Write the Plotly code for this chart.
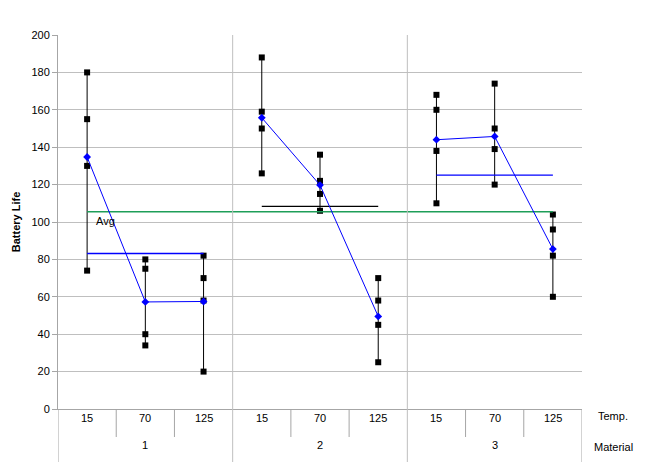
import plotly.graph_objects as go
import numpy as np

materials = ["1", "2", "3"]
temps = ["15", "70", "125"]
# observations per cell (material, temp)
obs = [
    [130, 155, 74, 180], [34, 40, 80, 75], [20, 70, 82, 58],
    [150, 188, 159, 126], [136, 122, 106, 115], [25, 70, 58, 45],
    [138, 110, 168, 160], [174, 120, 150, 139], [96, 104, 82, 60],
]

cell_means = [float(np.mean(o)) for o in obs]
mat_means = [float(np.mean(sum(obs[3*m:3*m+3], []))) for m in range(3)]
grand = float(np.mean(sum(obs, [])))

fig = go.Figure()

# range lines
lx, ly = [], []
for i, o in enumerate(obs):
    lx += [i, i, None]
    ly += [min(o), max(o), None]
fig.add_trace(go.Scatter(x=lx, y=ly, mode="lines", line=dict(color="black", width=1), hoverinfo="skip"))

# points
px, py = [], []
for i, o in enumerate(obs):
    px += [i]*len(o)
    py += o
fig.add_trace(go.Scatter(x=px, y=py, mode="markers", marker=dict(symbol="square", size=6, color="black")))

# material mean lines
mcolors = ["#0000ff", "#000000", "#0000ff"]
for m in range(3):
    fig.add_trace(go.Scatter(x=[3*m, 3*m+2], y=[mat_means[m]]*2, mode="lines",
                             line=dict(color=mcolors[m], width=1.3)))

# grand mean
fig.add_trace(go.Scatter(x=[0, 8], y=[grand, grand], mode="lines", line=dict(color="#1e9e58", width=1.5)))

# cell means (connected within each material)
for m in range(3):
    fig.add_trace(go.Scatter(x=[3*m, 3*m+1, 3*m+2], y=cell_means[3*m:3*m+3], mode="lines+markers",
                             line=dict(color="#0000ff", width=1),
                             marker=dict(symbol="diamond", size=6, color="#0000ff")))

fig.add_annotation(x=0.12, y=grand, xref="x", yref="y", text="Avg", showarrow=False,
                   xanchor="left", yanchor="top", yshift=-1, font=dict(size=11, color="black"))

H = 374.0
W = 524.0
def py_(p):
    return (409 - p) / H
def px_(p):
    return (p - 58) / W

shapes = []
for xb in [0.5, 1.5, 3.5, 4.5, 6.5, 7.5]:
    shapes.append(dict(type="line", xref="x", yref="paper", x0=xb, x1=xb, y0=0, y1=py_(437),
                       line=dict(color="#a6a6a6", width=1)))
for xb in [-0.5, 8.5]:
    shapes.append(dict(type="line", xref="x", yref="paper", x0=xb, x1=xb, y0=0, y1=py_(462),
                       line=dict(color="#a6a6a6", width=1)))
for xb in [2.5, 5.5]:
    shapes.append(dict(type="line", xref="x", yref="paper", x0=xb, x1=xb, y0=1, y1=py_(462),
                       line=dict(color="#bfbfbf", width=1)))
fig.update_layout(shapes=shapes)

for i in range(9):
    fig.add_annotation(x=i, y=py_(426), xref="x", yref="paper", text=temps[i % 3], showarrow=False,
                       font=dict(size=11, color="black"))
for m in range(3):
    fig.add_annotation(x=3*m+1, y=py_(453), xref="x", yref="paper", text=materials[m], showarrow=False,
                       font=dict(size=11, color="black"))
fig.add_annotation(x=px_(596), y=py_(424), xref="paper", yref="paper", text="Temp.", showarrow=False,
                   xanchor="left", font=dict(size=11, color="black"))
fig.add_annotation(x=px_(592), y=py_(455), xref="paper", yref="paper", text="Material", showarrow=False,
                   xanchor="left", font=dict(size=11, color="black"))

fig.update_layout(
    width=650, height=473,
    margin=dict(l=58, r=68, t=35, b=64),
    paper_bgcolor="white", plot_bgcolor="white",
    showlegend=False,
    font=dict(family="Liberation Sans, Arial, sans-serif", size=11, color="black"),
    xaxis=dict(range=[-0.5, 8.5], showgrid=False, showticklabels=False, zeroline=False,
               showline=True, linecolor="#a6a6a6", linewidth=1, ticks=""),
    yaxis=dict(range=[0, 200], dtick=20, showgrid=True, gridcolor="#bfbfbf", gridwidth=1,
               zeroline=False, showline=True, linecolor="#a6a6a6", linewidth=1,
               ticks="outside", ticklen=5, tickcolor="#a6a6a6",
               title=dict(text="<b>Battery Life</b>", font=dict(size=11), standoff=8)),
)

fig.write_html("out.html")
